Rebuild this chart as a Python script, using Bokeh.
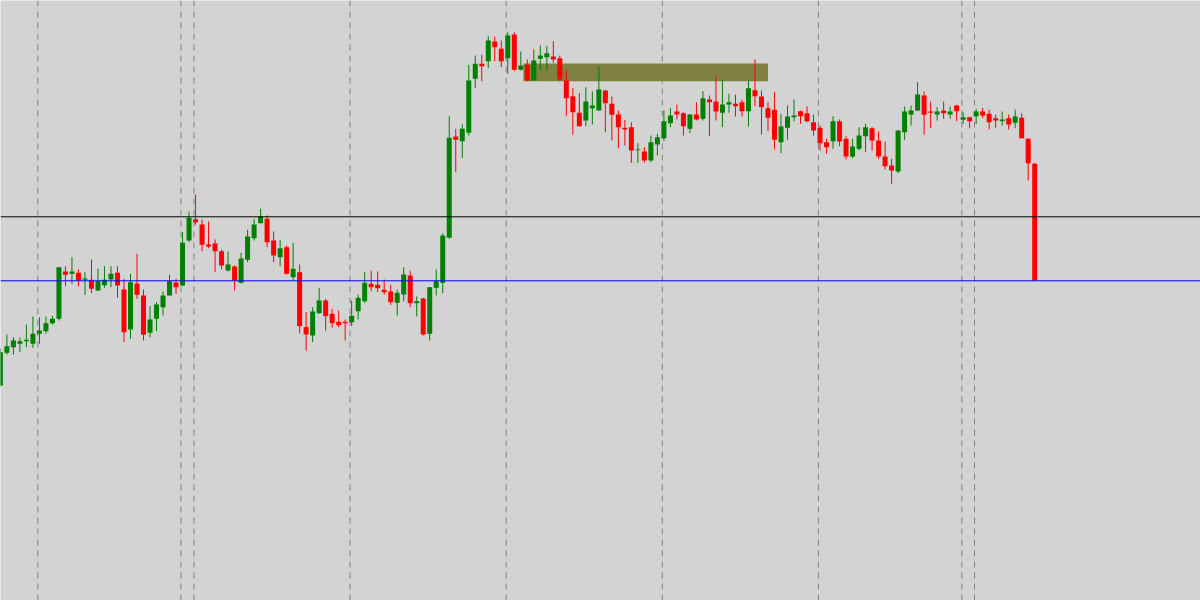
from bokeh.plotting import figure
from bokeh.models import Range1d, Span, ColumnDataSource
from bokeh.embed import file_html
from bokeh.resources import INLINE

# ---- data (hourly candles, price in chart points) ----
opens = [215, 247.7, 253.3, 256.7, 259.3, 256.7, 266.7, 269.3, 277.3, 281.7,
         329, 326.7, 327.7, 320.7, 320.7, 310, 315.3, 321, 327.7, 311,
         271, 317, 305, 267.7, 281.7, 293.3, 305, 318, 315, 360,
         381.3, 376, 356, 357, 349.3, 330, 334, 317.7, 340.7, 362.3,
         377.3, 381.7, 360, 343.3, 353.3, 323.3, 328.3, 273.3, 265, 287.3,
         300, 286.7, 278.7, 278.7, 278.3, 289.3, 299.3, 316.7, 315.7, 310.7,
         309, 297.7, 306, 325, 297.3, 302, 266.7, 312.7, 317.7, 362.7,
         464, 459.3, 467.7, 521.7, 536.7, 539.3, 559, 551.7, 542.3, 566,
         530.7, 535.7, 520, 541.7, 543.3, 544, 542.3, 520, 504.3, 487.7,
         480, 492.3, 490, 510, 496.7, 486, 472.7, 473.3, 450.3, 449,
         440, 456, 462.3, 477.3, 489, 487.3, 471.7, 486, 481.7, 501,
         499, 487.7, 496, 496.7, 498.3, 489.3, 510.3, 504, 492.3, 490.7,
         458.3, 472.7, 483.3, 489.3, 487.3, 478.3, 472.7, 458.3, 459.3, 479.3,
         461.7, 444, 451.7, 464.3, 472.3, 460, 444, 435, 429, 468.3,
         486, 490, 505, 489, 486, 490, 486, 495, 480.7, 483.3,
         484.3, 489, 486.7, 482.3, 479.3, 482.3, 477.7, 482.7, 461.7, 436.7]
highs = [252, 266, 263.3, 263, 276, 284, 283.3, 284, 284.7, 333.3,
         334.3, 343.3, 331, 328.3, 341, 331.7, 334.3, 334.3, 334.3, 321.7,
         326.7, 346.7, 311, 294.3, 298.3, 309, 325.7, 321.7, 368.3, 389,
         406, 381, 379, 361, 351, 349, 335, 347.7, 370.7, 381.7,
         391.7, 385, 369, 360.7, 355, 357.7, 336, 288.3, 293.3, 312.7,
         301.7, 291.3, 290, 281, 300, 306, 328.3, 330, 329, 321,
         315.7, 310.7, 333.3, 330, 304, 302.7, 313.3, 331, 367.3, 484.3,
         471.7, 476.3, 535.7, 545, 545.7, 564.3, 564, 560, 568.3, 568.3,
         549, 541, 551, 555, 554.3, 559.3, 545, 530, 512.3, 507.3,
         513.3, 509, 534, 510, 504, 490, 480.7, 478.3, 457.3, 453.3,
         465, 466.7, 490, 492.3, 496, 488.3, 486, 498.3, 509.3, 505,
         524, 521, 506.7, 506, 500.7, 520, 541, 510, 498.3, 508.3,
         486.7, 495, 501, 490, 494, 486, 475, 461.7, 484.3, 481,
         464.3, 461.7, 473.3, 476.7, 473.3, 469, 459, 441.7, 470, 494,
         495, 518.3, 509, 499, 493.3, 499, 494, 495.7, 488.3, 484,
         491.7, 492.7, 490.7, 486, 489, 486, 491, 487.3, 462.3, 437.7]
lows = [214, 246, 246, 248.3, 253.3, 252.7, 256.7, 266.7, 276, 280,
        314.3, 316.7, 314.3, 305.7, 307.3, 309.3, 312.7, 313.3, 302.7, 258.3,
        261.7, 301.7, 260, 263.3, 269.3, 285, 305, 306.7, 314.3, 358.3,
        375.7, 349.3, 352.3, 328.3, 331, 329, 310, 317, 338.3, 360,
        377.3, 353.3, 338.3, 334.3, 326, 320, 267.3, 250, 258.3, 286.7,
        270, 272.7, 273.3, 260, 274.3, 281, 297.3, 309.3, 308.3, 306,
        295.7, 285, 299.3, 293.3, 284, 265, 260, 305, 307.3, 361.7,
        428.3, 442.3, 465, 512.3, 519.3, 532.3, 539.3, 533.3, 526.7, 529.3,
        530, 519.3, 520, 531, 530, 537.7, 519.3, 484.3, 466, 474,
        474.3, 476, 490, 468.3, 460, 452.3, 455, 437.7, 437.7, 437.7,
        438.3, 445, 459.3, 473.3, 481, 465, 467.3, 480, 480, 464.3,
        480, 473.3, 487.7, 484, 484, 474, 494.3, 466, 469.3, 451,
        447.3, 460.7, 479.3, 476.7, 478.3, 465, 450, 446.7, 451.7, 454.3,
        441, 442.3, 450, 448.3, 450, 441.7, 431, 416.7, 427.3, 460.7,
        475, 489.3, 466, 472.3, 480, 481.7, 481.7, 479.3, 476.7, 472.3,
        476.7, 482.7, 471, 472.7, 475, 471, 472.3, 462.3, 420, 320]
closes = [248.3, 254.3, 260, 259.3, 260.7, 266.7, 270, 277.3, 281.7, 333.3,
          325.7, 329, 320, 322, 311.7, 319.3, 320.7, 326.7, 315, 268.3,
          318.3, 305.7, 265.7, 281, 296, 305, 319.3, 313.3, 357.7, 382.7,
          378.3, 355.7, 354, 349.3, 335, 336, 319.7, 342, 364, 376,
          384, 358.3, 345, 352.3, 326.7, 331.7, 274.3, 266, 289, 300,
          284.3, 277.3, 275.3, 277.3, 284.7, 302.7, 317.7, 313.3, 312.3, 308.3,
          298.3, 307.7, 326, 297.3, 299.3, 266, 313.3, 319.3, 365, 462.7,
          460.7, 471.7, 520, 536.7, 534.3, 560, 553.3, 539.3, 565, 530.7,
          535, 520, 540, 545, 547.3, 541, 521, 502.3, 488.3, 474.3,
          499, 495, 511, 497.3, 485.7, 473.3, 471, 450, 451, 440,
          458.3, 463.3, 479.3, 485, 486, 474.3, 486, 481, 502.3, 498.3,
          489, 496, 498.3, 494.3, 489.3, 512.3, 504.3, 493.3, 482.7, 460.7,
          474, 484, 485, 484.3, 479.3, 470, 457.3, 453.3, 479.3, 459,
          444, 454, 465, 473.3, 460, 444, 434.3, 430, 470, 489,
          490, 506, 485.7, 487.7, 489, 487.3, 489, 489.3, 483.3, 479.3,
          489, 485, 478.3, 480, 481, 476, 484, 462.3, 437.3, 320]

# horizontal price levels
level_black = 383.7
level_bid = 319.7
# zone rectangle (bar positions and price bounds)
zone_bar_left = 80.4
zone_bar_right = 118.0
zone_price_low = 519.3
zone_price_high = 537.0
# period separators (bar positions)
day_breaks = [5.75, 27.75, 29.75, 53.75, 77.75, 101.75, 125.75, 147.8, 149.75]

BULL = "#008000"
BEAR = "#ff0000"

n = len(opens)
xs = list(range(n))
colors = [BULL if c >= o else BEAR for o, c in zip(opens, closes)]
tops = [max(o, c) for o, c in zip(opens, closes)]
bots = [min(o, c) for o, c in zip(opens, closes)]
src = ColumnDataSource(dict(x=xs, o=opens, h=highs, l=lows, c=closes,
                            top=tops, bot=bots, col=colors))

SPACING = 6.505  # px per bar
p = figure(width=1200, height=600, output_backend="svg", toolbar_location=None,
           x_axis_location=None, y_axis_location=None,
           x_range=Range1d(0.1 / SPACING, 1200.1 / SPACING),
           y_range=Range1d(0, 600), min_border=0,
           background_fill_color="#d3d3d3", border_fill_color="#d3d3d3",
           outline_line_color=None)
p.grid.visible = False

# zone
p.quad(left=[zone_bar_left], right=[zone_bar_right],
       bottom=[zone_price_low], top=[zone_price_high],
       fill_color="#808040", line_color=None)

# separators
for b in day_breaks:
    p.add_layout(Span(location=b, dimension="height", line_color="#808080",
                      line_width=1, line_dash="6 5", level="underlay"))

# candles
p.segment(x0="x", y0="l", x1="x", y1="h", color="col", line_width=1, source=src)
p.vbar(x="x", width=5 / SPACING, top="top", bottom="bot", fill_color="col",
       line_color=None, source=src)

# horizontal levels
p.add_layout(Span(location=level_black, dimension="width", line_color="#000000",
                  line_width=1))
p.add_layout(Span(location=level_bid, dimension="width", line_color="#0000ff",
                  line_width=1))

html = file_html(p, INLINE)
html = html.replace("</head>", "<style>html,body{margin:0;padding:0;overflow:hidden;}</style></head>", 1)
open("out.html", "w").write(html)
